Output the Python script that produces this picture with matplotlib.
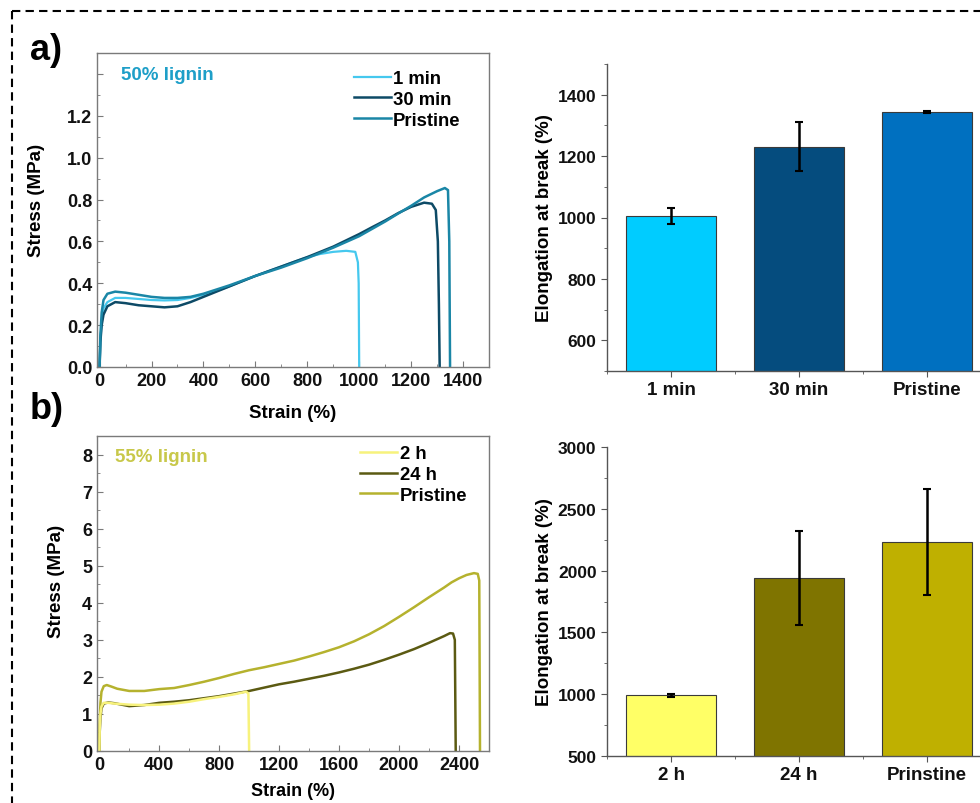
import numpy as np
import matplotlib
matplotlib.use("Agg")
import matplotlib.pyplot as plt
from matplotlib.lines import Line2D
from matplotlib.ticker import MultipleLocator

plt.rcParams['font.family'] = ['Liberation Sans', 'DejaVu Sans']
plt.rcParams['font.weight'] = 'bold'
plt.rcParams['axes.labelweight'] = 'bold'

# ---- panel a, stress-strain (50% lignin)
a_x_1min = [0, 3, 8, 15, 30, 60, 100, 150, 200, 250, 300, 350, 400, 450, 500, 550, 600, 650, 700, 750,
            800, 850, 900, 950, 985, 995, 998, 1000]
a_y_1min = [0, 0.12, 0.22, 0.28, 0.31, 0.33, 0.33, 0.325, 0.32, 0.318, 0.32, 0.33, 0.345, 0.363, 0.385,
            0.41, 0.435, 0.458, 0.48, 0.503, 0.525, 0.54, 0.55, 0.555, 0.55, 0.5, 0.4, 0]
a_x_30min = [0, 3, 8, 15, 30, 60, 100, 150, 200, 250, 300, 350, 400, 450, 500, 600, 700, 800, 900, 1000,
             1050, 1100, 1150, 1200, 1250, 1280, 1295, 1303, 1307, 1310]
a_y_30min = [0, 0.12, 0.2, 0.25, 0.29, 0.31, 0.305, 0.295, 0.29, 0.285, 0.29, 0.31, 0.335, 0.36, 0.385,
             0.435, 0.48, 0.525, 0.575, 0.635, 0.668, 0.70, 0.735, 0.765, 0.785, 0.78, 0.75, 0.6, 0.3, 0]
a_x_pris = [0, 3, 8, 15, 30, 60, 100, 150, 200, 250, 300, 350, 400, 450, 500, 600, 700, 800, 900, 1000,
            1050, 1100, 1150, 1200, 1250, 1300, 1330, 1342, 1347, 1350]
a_y_pris = [0, 0.15, 0.26, 0.32, 0.35, 0.36, 0.355, 0.345, 0.335, 0.33, 0.33, 0.335, 0.35, 0.37, 0.39,
            0.435, 0.475, 0.52, 0.57, 0.625, 0.66, 0.695, 0.733, 0.77, 0.81, 0.84, 0.855, 0.845, 0.6, 0]

# ---- panel b, stress-strain (55% lignin)
b_x_2h = [0, 3, 8, 15, 30, 60, 100, 200, 300, 400, 500, 600, 700, 800, 900, 980, 995, 1000]
b_y_2h = [0, 0.6, 1.0, 1.2, 1.3, 1.3, 1.28, 1.25, 1.24, 1.25, 1.28, 1.33, 1.4, 1.46, 1.53, 1.6, 1.55, 0]
b_x_24h = [0, 3, 8, 15, 30, 60, 100, 200, 300, 400, 500, 600, 800, 1000, 1100, 1200, 1300, 1400, 1500,
           1600, 1700, 1800, 1900, 2000, 2100, 2200, 2250, 2300, 2340, 2360, 2372, 2378]
b_y_24h = [0, 0.5, 0.9, 1.15, 1.28, 1.31, 1.29, 1.21, 1.24, 1.3, 1.33, 1.37, 1.48, 1.62, 1.71, 1.8, 1.87,
           1.95, 2.03, 2.12, 2.22, 2.33, 2.46, 2.6, 2.75, 2.92, 3.01, 3.1, 3.18, 3.17, 3.0, 0]
b_x_pris = [0, 3, 8, 15, 30, 50, 80, 120, 200, 300, 400, 500, 600, 700, 800, 900, 1000, 1100, 1200, 1300,
            1400, 1500, 1600, 1700, 1800, 1900, 2000, 2100, 2200, 2300, 2350, 2400, 2450, 2500, 2525,
            2535, 2540]
b_y_pris = [0, 0.8, 1.3, 1.6, 1.75, 1.78, 1.74, 1.68, 1.62, 1.62, 1.67, 1.7, 1.78, 1.87, 1.97, 2.08, 2.18,
            2.26, 2.35, 2.44, 2.55, 2.67, 2.8, 2.96, 3.15, 3.37, 3.62, 3.88, 4.15, 4.41, 4.55, 4.66, 4.75,
            4.8, 4.78, 4.6, 0]

# ---- elongation at break bars
a_cats = ['1 min', '30 min', 'Pristine']
a_elong = [1005, 1230, 1344]
a_err = [25, 80, 4]
b_cats = ['2 h', '24 h', 'Prinstine']
b_elong = [990, 1940, 2230]
b_err = [10, 380, 430]

a_line_cols = ['#45C8EE', '#0D4A66', '#1A86A6']
b_line_cols = ['#F7F27C', '#5B5A12', '#B5B22E']
a_bar_cols = ['#00CCFF', '#054C7E', '#0070C0']
b_bar_cols = ['#FFFF66', '#7F7400', '#BFB000']

W, H = 980, 804
fig = plt.figure(figsize=(9.8, 8.04), dpi=100)

def box(l, t, r, b):
    return [l / W, 1 - b / H, (r - l) / W, (b - t) / H]

ax1 = fig.add_axes(box(97, 54, 489, 368))
ax2 = fig.add_axes(box(607, 65, 991, 372))
ax3 = fig.add_axes(box(97, 437, 489, 752))
ax4 = fig.add_axes(box(607, 448, 991, 757))

TK = 13
LB = 13.5

def style_line_ax(ax):
    for s in ax.spines.values():
        s.set_color('#7a7a7a')
        s.set_linewidth(1.0)
    ax.tick_params(which='both', direction='in', colors='#7a7a7a', labelcolor='#111111', labelsize=TK)
    ax.tick_params(which='major', length=4)
    ax.tick_params(which='minor', length=2.5)
    for lab in ax.get_xticklabels() + ax.get_yticklabels():
        lab.set_fontweight('bold')

# panel a line plot
ax1.plot(a_x_1min, a_y_1min, color=a_line_cols[0], lw=1.6, label=a_cats[0])
ax1.plot(a_x_30min, a_y_30min, color=a_line_cols[1], lw=1.8, label=a_cats[1])
ax1.plot(a_x_pris, a_y_pris, color=a_line_cols[2], lw=1.8, label=a_cats[2])
ax1.set_xlim(-10, 1500)
ax1.set_ylim(0, 1.5)
ax1.set_xticks(np.arange(0, 1401, 200))
ax1.set_yticks(np.arange(0, 1.41, 0.2))
ax1.set_yticklabels(['0.0', '0.2', '0.4', '0.6', '0.8', '1.0', '1.2', ''])
ax1.xaxis.set_minor_locator(MultipleLocator(100))
ax1.yaxis.set_minor_locator(MultipleLocator(0.1))
style_line_ax(ax1)
ax1.set_xlabel('Strain (%)', fontsize=LB, fontweight='bold')
ax1.set_ylabel('Stress (MPa)', fontsize=LB, fontweight='bold')
ax1.xaxis.set_label_coords(0.5, -0.118)
ax1.yaxis.set_label_coords(-0.133, 0.535)
ax1.text(0.06, 0.93, '50% lignin', transform=ax1.transAxes, color='#1E9FC8',
         fontsize=13.5, fontweight='bold', va='center')
ax1.legend(loc='upper left', bbox_to_anchor=(0.655, 0.945), frameon=False, fontsize=13.3,
           handlelength=2.0, handletextpad=0.1, labelspacing=0.2, borderpad=0, borderaxespad=0)

# panel b line plot
ax3.plot(b_x_24h, b_y_24h, color=b_line_cols[1], lw=1.8, label=b_cats[1])
ax3.plot(b_x_pris, b_y_pris, color=b_line_cols[2], lw=1.8, label='Pristine')
ax3.plot(b_x_2h, b_y_2h, color=b_line_cols[0], lw=1.8, label=b_cats[0])
ax3.set_xlim(-15, 2600)
ax3.set_ylim(0, 8.5)
ax3.set_xticks(np.arange(0, 2401, 400))
ax3.set_yticks(np.arange(0, 9, 1))
ax3.xaxis.set_minor_locator(MultipleLocator(200))
ax3.yaxis.set_minor_locator(MultipleLocator(0.5))
style_line_ax(ax3)
ax3.set_xlabel('Strain (%)', fontsize=13, fontweight='bold')
ax3.set_ylabel('Stress (MPa)', fontsize=LB, fontweight='bold')
ax3.xaxis.set_label_coords(0.5, -0.1)
ax3.yaxis.set_label_coords(-0.082, 0.54)
ax3.text(0.045, 0.935, '55% lignin', transform=ax3.transAxes, color='#C8C84A',
         fontsize=13.5, fontweight='bold', va='center')
h, l = ax3.get_legend_handles_labels()
order = [2, 0, 1]
ax3.legend([h[i] for i in order], [l[i] for i in order], loc='upper left',
           bbox_to_anchor=(0.672, 0.97), frameon=False, fontsize=13.3,
           handlelength=2.0, handletextpad=0.15, labelspacing=0.2, borderpad=0, borderaxespad=0)

def style_bar_ax(ax):
    ax.spines['top'].set_visible(False)
    ax.spines['right'].set_visible(False)
    for s in ('left', 'bottom'):
        ax.spines[s].set_color('#555555')
        ax.spines[s].set_linewidth(1.0)
    ax.tick_params(which='both', direction='out', colors='#555555', labelcolor='#111111')
    ax.tick_params(which='major', length=4)
    ax.tick_params(which='minor', length=2.5)
    ax.tick_params(axis='y', labelsize=12.5)
    ax.tick_params(axis='x', labelsize=13.5)
    ax.xaxis.set_minor_locator(MultipleLocator(0.5))
    for lab in ax.get_xticklabels() + ax.get_yticklabels():
        lab.set_fontweight('bold')

xpos = np.arange(3)
ax2.bar(xpos, a_elong, width=0.7, color=a_bar_cols, edgecolor='#3a3a3a', linewidth=0.8)
ax2.errorbar(xpos, a_elong, yerr=a_err, fmt='none', ecolor='black', elinewidth=1.8,
             capsize=3, capthick=1.5)
ax2.set_xlim(-0.5, 2.5)
ax2.set_ylim(500, 1500)
ax2.set_xticks(xpos)
ax2.set_xticklabels(a_cats)
ax2.set_yticks(np.arange(600, 1401, 200))
ax2.yaxis.set_minor_locator(MultipleLocator(100))
style_bar_ax(ax2)
ax2.set_ylabel('Elongation at break (%)', fontsize=LB, fontweight='bold')
ax2.yaxis.set_label_coords(-0.141, 0.5)

ax4.bar(xpos, b_elong, width=0.7, color=b_bar_cols, edgecolor='#3a3a3a', linewidth=0.8)
ax4.errorbar(xpos, b_elong, yerr=b_err, fmt='none', ecolor='black', elinewidth=1.8,
             capsize=3, capthick=1.5)
ax4.set_xlim(-0.5, 2.5)
ax4.set_ylim(500, 3000)
ax4.set_xticks(xpos)
ax4.set_xticklabels(b_cats)
ax4.set_yticks(np.arange(500, 3001, 500))
ax4.yaxis.set_minor_locator(MultipleLocator(250))
style_bar_ax(ax4)
ax4.set_ylabel('Elongation at break (%)', fontsize=LB, fontweight='bold')
ax4.yaxis.set_label_coords(-0.141, 0.5)

# panel letters
fig.text(30 / W, 1 - 51 / H, 'a)', fontsize=26, fontweight='bold', va='center', ha='left')
fig.text(30 / W, 1 - 410 / H, 'b)', fontsize=26, fontweight='bold', va='center', ha='left')

# dashed frame
x0, y0 = 11.7 / W, 1 - 12.3 / H
fig.add_artist(Line2D([x0, 1.0], [y0, y0], transform=fig.transFigure, color='black',
                      lw=1.5, linestyle=(0, (4, 2.5))))
fig.add_artist(Line2D([x0, x0], [y0, 0.0], transform=fig.transFigure, color='black',
                      lw=1.5, linestyle=(0, (4, 2.5))))

fig.savefig('out.png', dpi=100)
